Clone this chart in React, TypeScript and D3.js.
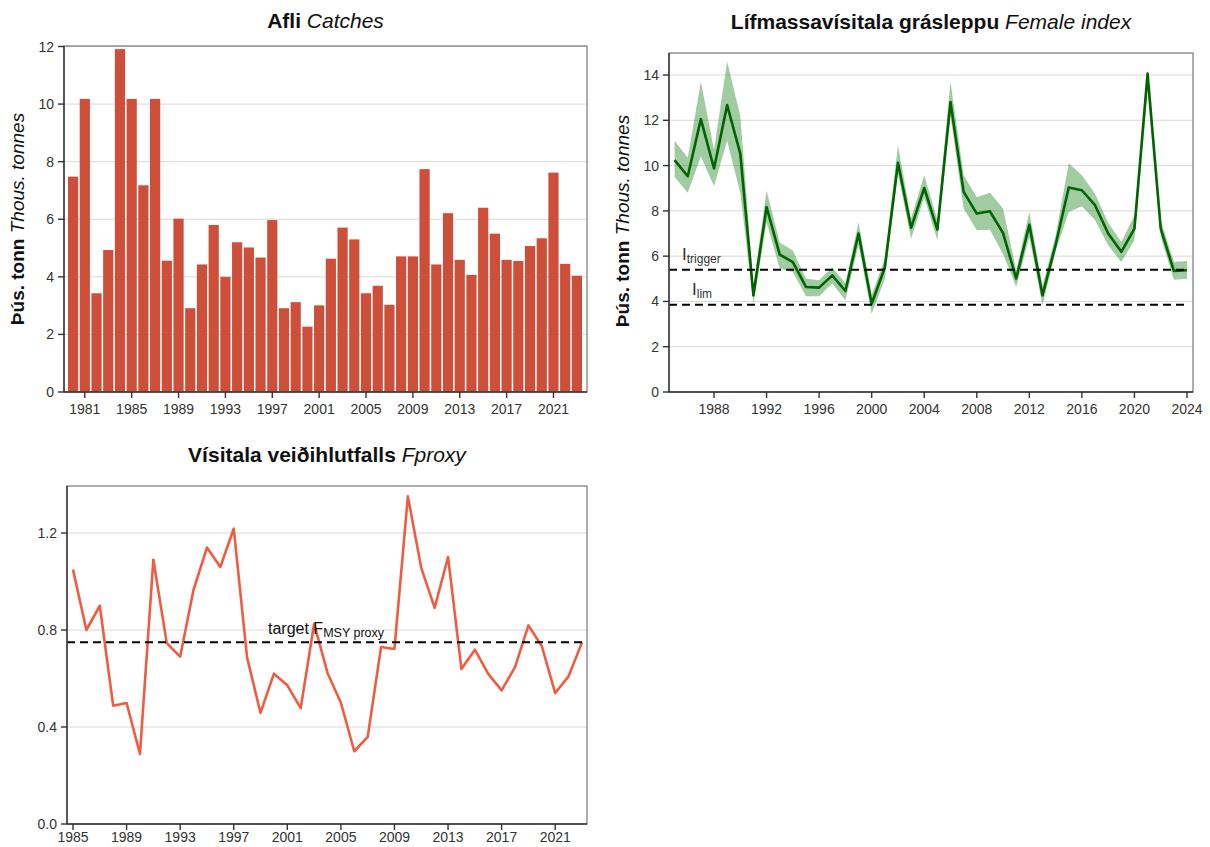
import * as d3 from "d3";

// ---- data ----
const catchYears = [
  1980, 1981, 1982, 1983, 1984, 1985, 1986, 1987, 1988, 1989, 1990, 1991, 1992, 1993, 1994,
  1995, 1996, 1997, 1998, 1999, 2000, 2001, 2002, 2003, 2004, 2005, 2006, 2007, 2008, 2009,
  2010, 2011, 2012, 2013, 2014, 2015, 2016, 2017, 2018, 2019, 2020, 2021, 2022, 2023,
];
const catches = [
  7.48, 10.18, 3.43, 4.93, 11.91, 10.18, 7.18, 10.18, 4.56, 6.02, 2.91, 4.43, 5.8, 4.0, 5.2,
  5.02, 4.67, 5.97, 2.91, 3.12, 2.27, 3.01, 4.63, 5.71, 5.3, 3.43, 3.69, 3.03, 4.71, 4.71,
  7.74, 4.43, 6.21, 4.59, 4.07, 6.4, 5.5, 4.59, 4.55, 5.07, 5.34, 7.62, 4.45, 4.04,
];
const catchTicksX = [1981, 1985, 1989, 1993, 1997, 2001, 2005, 2009, 2013, 2017, 2021];
const catchTicksY = [0, 2, 4, 6, 8, 10, 12];

const indexYears = [
  1985, 1986, 1987, 1988, 1989, 1990, 1991, 1992, 1993, 1994, 1995, 1996, 1997, 1998, 1999,
  2000, 2001, 2002, 2003, 2004, 2005, 2006, 2007, 2008, 2009, 2010, 2011, 2012, 2013, 2014,
  2015, 2016, 2017, 2018, 2019, 2020, 2021, 2022, 2023, 2024,
];
const indexMid = [
  10.24, 9.53, 12.05, 9.87, 12.67, 10.53, 4.27, 8.17, 6.07, 5.74, 4.64, 4.61, 5.15, 4.46, 7.0,
  3.9, 5.5, 10.12, 7.25, 9.01, 7.17, 12.81, 8.84, 7.88, 7.98, 7.02, 5.01, 7.39, 4.27, 6.5,
  9.03, 8.91, 8.25, 7.0, 6.19, 7.22, 14.06, 7.22, 5.35, 5.38,
];
const indexLow = [
  9.5, 8.8, 10.4, 9.1, 11.1, 8.8, 3.9, 7.5, 5.45, 5.3, 4.23, 4.23, 4.79, 4.05, 6.5,
  3.45, 5.0, 9.65, 6.77, 8.6, 6.7, 12.2, 8.1, 7.14, 7.17, 6.1, 4.64, 6.85, 3.83, 6.2,
  7.95, 8.2, 7.6, 6.48, 5.74, 6.7, 13.33, 6.85, 4.96, 5.0,
];
const indexHigh = [
  11.1, 10.35, 13.7, 10.7, 14.6, 12.2, 4.7, 8.9, 6.6, 6.25, 5.0, 4.93, 5.5, 4.8, 7.5,
  4.27, 5.9, 10.9, 7.66, 9.57, 7.6, 13.7, 9.57, 8.6, 8.8, 8.1, 5.37, 7.95, 4.7, 6.9,
  10.1, 9.57, 8.76, 7.47, 6.63, 7.8, 14.14, 7.6, 5.74, 5.79,
];
const indexTicksX = [1988, 1992, 1996, 2000, 2004, 2008, 2012, 2016, 2020, 2024];
const indexTicksY = [0, 2, 4, 6, 8, 10, 12, 14];
const iTrigger = 5.4;
const iLim = 3.85;

const fYears = [
  1985, 1986, 1987, 1988, 1989, 1990, 1991, 1992, 1993, 1994, 1995, 1996, 1997, 1998, 1999,
  2000, 2001, 2002, 2003, 2004, 2005, 2006, 2007, 2008, 2009, 2010, 2011, 2012, 2013, 2014,
  2015, 2016, 2017, 2018, 2019, 2020, 2021, 2022, 2023,
];
const fProxy = [
  1.049, 0.8, 0.9, 0.488, 0.499, 0.289, 1.09, 0.746, 0.69, 0.966, 1.14, 1.06, 1.218, 0.685, 0.458,
  0.62, 0.572, 0.478, 0.826, 0.623, 0.5, 0.3, 0.359, 0.73, 0.722, 1.351, 1.056, 0.891, 1.101, 0.639,
  0.719, 0.619, 0.551, 0.647, 0.819, 0.733, 0.54, 0.609, 0.749,
];
const fTicksX = [1985, 1989, 1993, 1997, 2001, 2005, 2009, 2013, 2017, 2021];
const fTicksY = [0, 0.4, 0.8, 1.2];
const fTarget = 0.75;

const FONT = "'Liberation Sans', Arial, Helvetica, sans-serif";
const TXT = "#333";
const GRID = "#d9d9d9";

function Title({ x, y, bold, italic }) {
  return (
    <text x={x} y={y} textAnchor="middle" fontSize={21} fontWeight="bold" fill="#111">
      {bold}
      <tspan fontStyle="italic" fontWeight="normal"> {italic}</tspan>
    </text>
  );
}

function YTitle({ x, y }) {
  return (
    <text transform={`translate(${x},${y}) rotate(-90)`} textAnchor="middle" fontSize={19} fontWeight="bold" fill="#111">
      Þús. tonn
      <tspan fontStyle="italic" fontWeight="normal"> Thous. tonnes</tspan>
    </text>
  );
}

function Grid({ y, ticks, x0, x1 }) {
  return (
    <g>
      {ticks.filter((t) => t !== 0).map((t) => (
        <line key={t} x1={x0} x2={x1} y1={y(t)} y2={y(t)} stroke={GRID} strokeWidth={1} />
      ))}
    </g>
  );
}

function Frame({ x0, x1, y0, y1 }) {
  return (
    <g fill="none">
      <rect x={x0} y={y1} width={x1 - x0} height={y0 - y1} stroke="#777" strokeWidth={1.2} />
      <line x1={x0} x2={x0} y1={y1} y2={y0} stroke="#333" strokeWidth={1.4} />
      <line x1={x0} x2={x1} y1={y0} y2={y0} stroke="#333" strokeWidth={1.4} />
    </g>
  );
}

function YAxis({ y, ticks, x0, fmt }) {
  return (
    <g>
      {ticks.map((t) => (
        <g key={t}>
          <line x1={x0 - 6} x2={x0} y1={y(t)} y2={y(t)} stroke="#333" strokeWidth={1.4} />
          <text x={x0 - 10} y={y(t)} dy="0.36em" textAnchor="end" fontSize={14} fill={TXT}>
            {fmt(t)}
          </text>
        </g>
      ))}
    </g>
  );
}

function XAxis({ pos, ticks, y0, off = 22 }) {
  return (
    <g>
      {ticks.map((t) => (
        <g key={t}>
          <line x1={pos(t)} x2={pos(t)} y1={y0} y2={y0 + 6} stroke="#333" strokeWidth={1.4} />
          <text x={pos(t)} y={y0 + off} textAnchor="middle" fontSize={14} fill={TXT}>
            {t}
          </text>
        </g>
      ))}
    </g>
  );
}

function Sub({ x, y, main, sub, size = 16, subSize = 12, fill = TXT }) {
  return (
    <text x={x} y={y} fontSize={size} fill={fill}>
      {main}
      <tspan fontSize={subSize} dy={3}>{sub}</tspan>
    </text>
  );
}

function CatchPanel() {
  const x0 = 64, x1 = 587, y0 = 392, y1 = 46;
  const x = d3.scaleBand<number>().domain(catchYears).range([68, 582]).paddingInner(0.13);
  const y = d3.scaleLinear().domain([0, 12]).range([y0, 46.5]);
  const cx = (yr) => (x(yr) ?? 0) + x.bandwidth() / 2;
  return (
    <g>
      <Title x={(x0 + x1) / 2} y={28} bold="Afli" italic="Catches" />
      <YTitle x={24} y={219} />
      <Grid y={y} ticks={catchTicksY} x0={x0} x1={x1} />
      {catchYears.map((yr, i) => (
        <rect key={yr} x={x(yr)} width={x.bandwidth()} y={y(catches[i])} height={y0 - y(catches[i])} fill="#CD4F39" />
      ))}
      <Frame x0={x0} x1={x1} y0={y0} y1={y1} />
      <YAxis y={y} ticks={catchTicksY} x0={x0} fmt={(t) => String(t)} />
      <XAxis pos={cx} ticks={catchTicksX} y0={y0} />
    </g>
  );
}

function IndexPanel() {
  const x0 = 669, x1 = 1193, y0 = 392, y1 = 53;
  const x = d3.scaleLinear().domain([1985, 2024]).range([674.6, 1187]);
  const y = d3.scaleLinear().domain([0, 14]).range([y0, 75]);
  const band = d3
    .area<number>()
    .x((_, i) => x(indexYears[i]))
    .y0((_, i) => y(indexLow[i]))
    .y1((_, i) => y(indexHigh[i]));
  const line = d3
    .line<number>()
    .x((_, i) => x(indexYears[i]))
    .y((d) => y(d));
  return (
    <g>
      <Title x={(x0 + x1) / 2} y={29} bold="Lífmassavísitala grásleppu" italic="Female index" />
      <YTitle x={629} y={221} />
      <Grid y={y} ticks={indexTicksY} x0={x0} x1={x1} />
      <path d={band(indexMid) ?? ""} fill="#2e8b2e" fillOpacity={0.45} />
      <path d={line(indexMid) ?? ""} fill="none" stroke="#006400" strokeWidth={2.6} strokeLinejoin="round" />
      {[iTrigger, iLim].map((v) => (
        <line key={v} x1={x0} x2={x1 - 4} y1={y(v)} y2={y(v)} stroke="#000" strokeWidth={2} strokeDasharray="8,5" />
      ))}
      <Sub x={682} y={260} main="I" sub="trigger" size={17} subSize={12} />
      <Sub x={692} y={295} main="I" sub="lim" size={17} subSize={12} />
      <Frame x0={x0} x1={x1} y0={y0} y1={y1} />
      <YAxis y={y} ticks={indexTicksY} x0={x0} fmt={(t) => String(t)} />
      <XAxis pos={x} ticks={indexTicksX} y0={y0} />
    </g>
  );
}

function FPanel() {
  const x0 = 67, x1 = 587, y0 = 824, y1 = 486;
  const x = d3.scaleLinear().domain([1985, 2023]).range([73, 582]);
  const y = d3.scaleLinear().domain([0, 1.2]).range([y0, 533]);
  const line = d3
    .line<number>()
    .x((_, i) => x(fYears[i]))
    .y((d) => y(d));
  return (
    <g>
      <Title x={(x0 + x1) / 2} y={462} bold="Vísitala veiðihlutfalls" italic="Fproxy" />
      <Grid y={y} ticks={fTicksY} x0={x0} x1={x1} />
      <path d={line(fProxy) ?? ""} fill="none" stroke="#EE5C42" strokeWidth={2.6} strokeLinejoin="round" />
      <line x1={x0} x2={x1 - 4} y1={y(fTarget)} y2={y(fTarget)} stroke="#000" strokeWidth={2} strokeDasharray="8,5" />
      <Sub x={268} y={634} main="target F" sub="MSY proxy" size={16} subSize={12.5} fill="#111" />
      <Frame x0={x0} x1={x1} y0={y0} y1={y1} />
      <YAxis y={y} ticks={fTicksY} x0={x0} fmt={(t) => d3.format(".1f")(t)} />
      {/* labels lifted a little so they stay inside the 847px page */}
      <XAxis pos={x} ticks={fTicksX} y0={y0} off={18} />
    </g>
  );
}

export default function App() {
  return (
    <svg
      width={1210}
      height={847}
      style={{ position: "absolute", left: 0, top: 0, background: "#fff" }}
      fontFamily={FONT}
    >
      <rect width={1210} height={847} fill="#fff" />
      <CatchPanel />
      <IndexPanel />
      <FPanel />
    </svg>
  );
}
